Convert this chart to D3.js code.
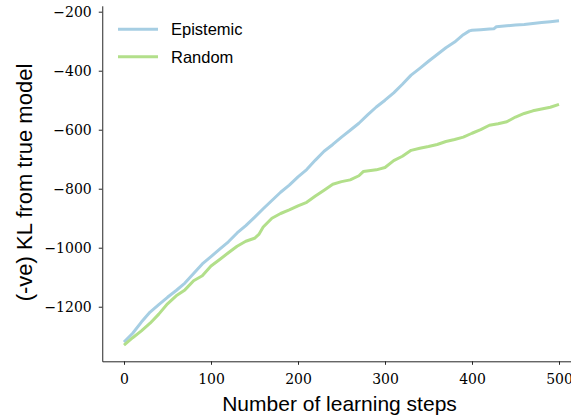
<!DOCTYPE html>
<html>
<head>
<meta charset="utf-8">
<script src="https://cdn.jsdelivr.net/npm/d3@7"></script>
<style>
  html, body { margin: 0; padding: 0; background: #fff; }
  svg { display: block; }
</style>
</head>
<body>
<svg id="chart" width="571" height="419"></svg>
<script>
// ---- data ----
const epistemicSteps = [0,10,20,30,40,50,60,70,80,90,100,110,120,130,140,150,160,170,180,190,200,210,220,230,240,250,260,270,280,290,300,310,320,330,340,350,360,370,380,390,397,400,410,420,425,428,440,450,460,470,480,490,500];
const epistemicValues = [-1320,-1290,-1252,-1218,-1193,-1168,-1145,-1120,-1087,-1055,-1030,-1005,-980,-950,-925,-897,-868,-840,-812,-788,-760,-735,-703,-673,-650,-625,-602,-578,-550,-523,-500,-475,-446,-415,-392,-368,-345,-322,-303,-278,-265,-263,-261,-259,-258,-251,-248,-245,-243,-240,-237,-234,-231];
const randomSteps = [0,10,20,30,40,50,60,70,80,90,100,110,120,130,140,150,155,160,170,180,190,200,210,220,230,240,250,260,270,275,290,300,310,320,330,340,350,360,370,380,390,400,410,420,430,440,450,460,470,480,490,500];
const randomValues = [-1330,-1305,-1282,-1256,-1225,-1190,-1163,-1143,-1112,-1095,-1062,-1040,-1017,-995,-978,-968,-955,-930,-900,-884,-872,-858,-846,-825,-805,-785,-776,-770,-756,-742,-736,-728,-705,-690,-670,-663,-657,-650,-640,-633,-625,-612,-600,-585,-580,-573,-557,-545,-536,-530,-524,-514];
const seriesNames = ["Epistemic", "Random"];
const seriesColors = ["#a6cee3", "#b2df8a"];
const xTicks = [0, 100, 200, 300, 400, 500];
const yTicks = [-1200, -1000, -800, -600, -400, -200];
const xLabel = "Number of learning steps";
const yLabel = "(-ve) KL from true model";

const series = [
  { name: seriesNames[0], color: seriesColors[0], pts: epistemicSteps.map((s, i) => [s, epistemicValues[i]]) },
  { name: seriesNames[1], color: seriesColors[1], pts: randomSteps.map((s, i) => [s, randomValues[i]]) }
];

const svg = d3.select("#chart");
const x = d3.scaleLinear().domain([-25, 525]).range([102.25, 580.75]);
const y = d3.scaleLinear().domain([-1385, -180]).range([361.3, 5.8]);

const serif = "'DejaVu Serif', serif";
const sans = "'Liberation Sans', Arial, sans-serif";

// lines
const line = d3.line().x(d => x(d[0])).y(d => y(d[1]));
series.forEach(s => {
  svg.append("path")
    .datum(s.pts)
    .attr("d", line)
    .attr("fill", "none")
    .attr("stroke", s.color)
    .attr("stroke-width", 3)
    .attr("stroke-linejoin", "round")
    .attr("stroke-linecap", "butt");
});

// axes
const fmt = d => d3.format("d")(d).replace("-", "\u2212");
const xAxis = svg.append("g")
  .attr("transform", `translate(0,${y(-1385)})`)
  .call(d3.axisBottom(x).tickValues(xTicks).tickFormat(fmt).tickSize(3.5).tickPadding(9.5).tickSizeOuter(0));
const yAxis = svg.append("g")
  .attr("transform", `translate(${x(-25)},0)`)
  .call(d3.axisLeft(y).tickValues(yTicks).tickFormat(fmt).tickSize(3.5).tickPadding(7).tickSizeOuter(0));

[xAxis, yAxis].forEach(g => {
  g.attr("font-family", serif).attr("font-size", 14);
  g.select(".domain").attr("stroke", "#262626").attr("stroke-width", 1);
  g.selectAll(".tick line").attr("stroke", "#262626").attr("stroke-width", 1);
  g.selectAll(".tick text").attr("fill", "#000")
    .attr("font-family", serif).attr("font-size", 14)
    .style("font-family", serif).style("font-size", "14px");
});

// axis labels
svg.append("text")
  .attr("x", 339.5).attr("y", 411)
  .attr("text-anchor", "middle")
  .style("font-family", sans).style("font-size", "21px").attr("fill", "#000")
  .text(xLabel);
svg.append("text")
  .attr("transform", "translate(32,182.5) rotate(-90)")
  .attr("text-anchor", "middle")
  .style("font-family", sans).style("font-size", "22px").attr("fill", "#000")
  .text(yLabel);

// legend
const legend = svg.append("g");
series.forEach((s, i) => {
  const ly = 29.3 + i * 27.4;
  legend.append("line")
    .attr("x1", 118).attr("x2", 158).attr("y1", ly).attr("y2", ly)
    .attr("stroke", s.color).attr("stroke-width", 3);
  legend.append("text")
    .attr("x", 171).attr("y", ly + 6)
    .style("font-family", sans).style("font-size", "16.5px").attr("fill", "#000")
    .text(s.name);
});
</script>
</body>
</html>
